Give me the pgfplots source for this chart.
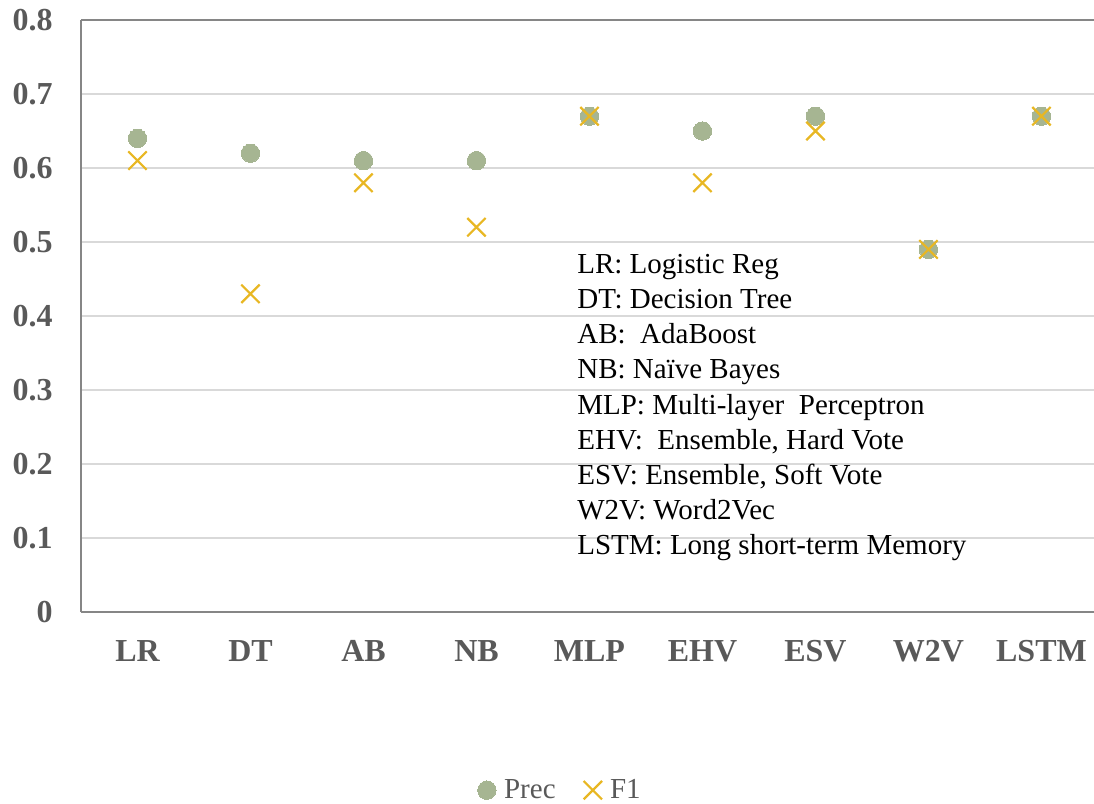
\documentclass[border=0pt]{standalone}
\usepackage{pgfplots}
\pgfplotsset{compat=1.18}
\usepackage{fontspec}
\setmainfont{Liberation Serif}

\definecolor{precgreen}{RGB}{166,181,146}
\definecolor{fonegold}{RGB}{232,183,35}
\definecolor{labelgrey}{RGB}{89,89,89}
\definecolor{axisgrey}{RGB}{134,134,134}
\definecolor{gridgrey}{RGB}{217,217,217}

\pgfplotstableread{
x cat  prec f1
0 LR   0.64 0.61
1 DT   0.62 0.43
2 AB   0.61 0.58
3 NB   0.61 0.52
4 MLP  0.67 0.67
5 EHV  0.65 0.58
6 ESV  0.67 0.65
7 W2V  0.49 0.49
8 LSTM 0.67 0.67
}\scores

\begin{document}
\begin{tikzpicture}
\path[use as bounding box] (0,0) rectangle (547pt,402pt);
\begin{axis}[
  at={(40.5pt,96pt)}, anchor=south west,
  scale only axis,
  width=506.5pt, height=296pt,
  xmin=-0.5, xmax=8.465,
  ymin=0, ymax=0.8,
  ytick={0,0.1,...,0.8},
  yticklabels={0,0.1,0.2,0.3,0.4,0.5,0.6,0.7,0.8},
  xtick={0,...,8},
  xticklabels={LR,DT,AB,NB,MLP,EHV,ESV,W2V,LSTM},
  major tick length=0pt,
  axis x line=box, axis y line=left,
  axis line style={draw=axisgrey, line width=0.75pt, -},
  xticklabel pos=lower,
  ymajorgrids,
  major grid style={draw=gridgrey, line width=0.75pt},
  /pgf/number format/assume math mode=true,
  ticklabel style={font=\fontsize{16}{19}\selectfont\bfseries, text=labelgrey, inner sep=0pt},
  yticklabel style={anchor=east, xshift=-14pt},
  xticklabel style={anchor=north, yshift=-14pt},
  clip=false,
  legend columns=2,
  legend style={at={(0.476,-0.301)}, anchor=center, draw=none, fill=none,
    font=\fontsize{14.5}{17}\selectfont, text=labelgrey,
    /tikz/every even column/.append style={column sep=10pt},
    nodes={inner xsep=4pt}},
  legend cell align=left,
]
\addplot[only marks, color=precgreen, mark=*, mark size=4.6pt,
  mark options={draw=precgreen, fill=precgreen, line width=0pt}]
  table[x=x, y=prec] {\scores};
\addlegendentry{Prec}
\addplot[only marks, color=fonegold, mark=x, mark size=6.5pt,
  mark options={draw=fonegold, line width=1.1pt}]
  table[x=x, y=f1] {\scores};
\addlegendentry{F1}

\node[anchor=north west, inner sep=0pt, align=left,
      font=\fontsize{14.5}{17.55}\selectfont]
  at (rel axis cs:0.4896,0.6047) {%
  LR: Logistic Reg\\
  DT: Decision Tree\\
  AB:\ \ AdaBoost\\
  NB: Naïve Bayes\\
  MLP: Multi-layer\ \ Perceptron\\
  EHV:\ \ Ensemble, Hard Vote\\
  ESV: Ensemble, Soft Vote\\
  W2V: Word2Vec\\
  LSTM: Long short-term Memory};
\end{axis}
\end{tikzpicture}
\end{document}
